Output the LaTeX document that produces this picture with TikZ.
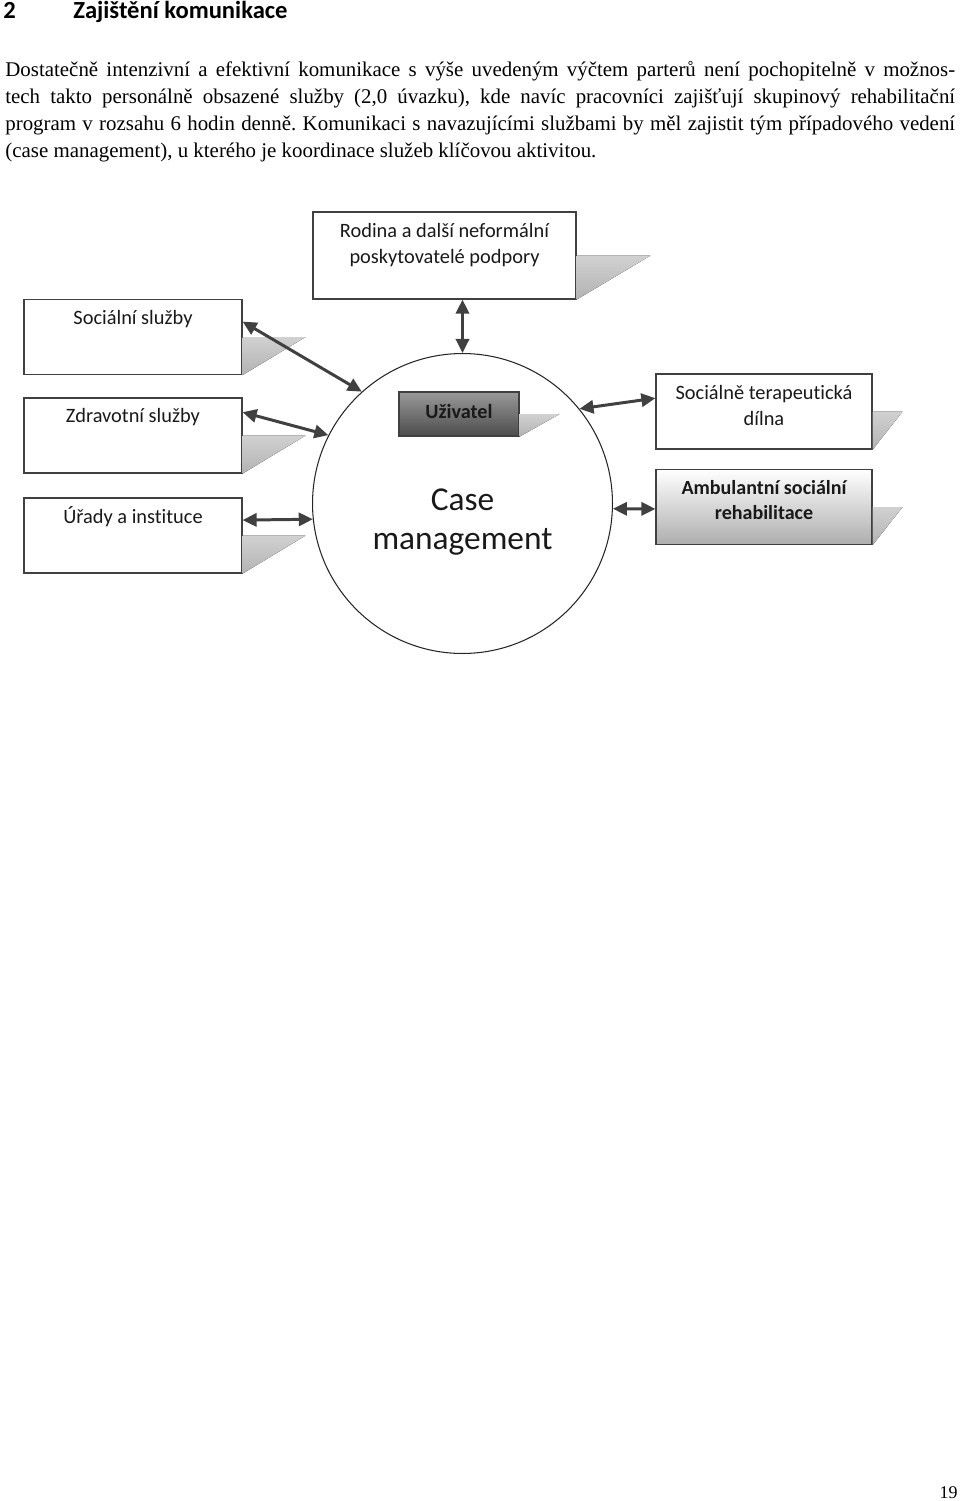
\documentclass[tikz,border=0pt]{standalone}
\usepackage{fontspec}
\setmainfont{Liberation Serif}
\newfontfamily\carlito[Ligatures=NoCommon]{Carlito}
\usepackage{tikz}
\usetikzlibrary{positioning}
\usetikzlibrary{shapes, arrows.meta}
\frenchspacing

\tikzset{
    box/.style={draw=black!75, line width=0.7pt, fill=white, minimum width=4.36cm, minimum height=1.5cm, inner sep=0pt},
    lbl/.style={font=\carlito\fontsize{11.6}{14.5}\selectfont, text=black!90, align=center, inner sep=0pt, anchor=base},
    shd/.style={top color=black!18, bottom color=black!30},
    conn/.style={draw=black!75, line width=1.7pt, {Triangle[length=8pt,width=7.5pt]}-{Triangle[length=8pt,width=7.5pt]}},
}

\begin{document}
\begin{tikzpicture}[x=0.02cm, y=-0.02cm]
            \useasboundingbox (0,0) rectangle (960,1501);

            % heading and text (base anchor = last line)
            \node[anchor=base west, inner sep=0pt, font=\carlito\bfseries\fontsize{14}{17}\selectfont] (num) at (3,18) {2};
            \node[anchor=base west, inner sep=0pt, font=\carlito\bfseries\fontsize{14}{17}\selectfont] (title) at (73,18) {Zajištění komunikace};

            \node[anchor=base west, inner sep=0pt, align=left, font=\fontsize{11.9}{15.35}\selectfont] (par) at (5,157) {%
                \makebox[19cm][s]{Dostatečně intenzivní a efektivní komunikace s výše uvedeným výčtem parterů není pochopitelně v možnos-}\\
                \makebox[19cm][s]{tech takto personálně obsazené služby (2,0 úvazku), kde navíc pracovníci zajišťují skupinový rehabilitační}\\
                \makebox[19cm][s]{program v rozsahu 6 hodin denně. Komunikaci s navazujícími službami by měl zajistit tým případového vedení}\\
                (case management), u kterého je koordinace služeb klíčovou aktivitou.};

            % boxes
            \node[box, minimum width=5.26cm, minimum height=1.74cm] (rod) at (444.5,255.5) {};
            \node[box] (soc) at (133,337) {};
            \node[box] (zdr) at (133,435.5) {};
            \node[box] (ura) at (133,535.5) {};
            \node[box, minimum width=4.32cm] (ter) at (764,411.5) {};
            \node[box, minimum width=4.32cm, top color=white, bottom color=black!32] (amb) at (764,507) {};
            \node[circle, draw=black!85, line width=0.6pt, minimum size=6cm, inner sep=0pt] (cm) at (462.5,503.5) {};
            \node[box, minimum width=2.4cm, minimum height=0.88cm, top color=black!40, bottom color=black!70] (uzi) at (459,414) {};

            % shadows
            \fill[shd] (rod.east) -- ++(74,0) -- (rod.south east) -- cycle;
            \fill[shd] (soc.east) -- ++(63,0) -- (soc.south east) -- cycle;
            \fill[shd] (zdr.east) -- ++(63,0) -- (zdr.south east) -- cycle;
            \fill[shd] (ura.east) -- ++(63,0) -- (ura.south east) -- cycle;
            \fill[shd] (uzi.east) -- ++(40,0) -- (uzi.south east) -- cycle;
            \fill[shd] (ter.east) -- ++(30,0) -- (ter.south east) -- cycle;
            \fill[shd] (amb.east) -- ++(30,0) -- (amb.south east) -- cycle;

            % labels
            \node[lbl] (rod-t) at ([yshift=-1.04cm]rod.north) {Rodina a další neformální\\poskytovatelé podpory};
            \node[lbl] (soc-t) at ([yshift=-0.52cm]soc.north) {Sociální služby};
            \node[lbl] (zdr-t) at ([yshift=-0.5cm]zdr.north) {Zdravotní služby};
            \node[lbl] (ura-t) at ([yshift=-0.52cm]ura.north) {Úřady a instituce};
            \node[lbl] (ter-t) at ([yshift=-1.04cm]ter.north) {Sociálně terapeutická\\dílna};
            \node[lbl, font=\carlito\bfseries\fontsize{11.4}{14.5}\selectfont] (amb-t) at ([yshift=-1.02cm]amb.north) {Ambulantní sociální\\rehabilitace};
            \node[lbl, font=\carlito\bfseries\fontsize{11.5}{14}\selectfont, text=black!90] (uzi-t) at ([yshift=-0.08cm]uzi.center) {Uživatel};
            \node[lbl, font=\carlito\fontsize{19}{22.7}\selectfont] (cm-t) at ([yshift=-0.93cm]cm.center) {Case\\management};

            % connectors
            \draw[conn] (cm.north |- rod.south) -- (cm.north);
            \draw[conn] (soc.8) -- (cm.132.5);
            \draw[conn] (zdr.12) -- (cm.153.7);
            \draw[conn] (ura.8) -- (cm.186);
            \draw[conn] (ter.173.5) -- (cm.39.7);
            \draw[conn] (amb.181) -- (cm.-2);

            \node[anchor=base east, inner sep=0pt, font=\fontsize{10.2}{12}\selectfont] (page) at (958,1498) {19};
\end{tikzpicture}
\end{document}
